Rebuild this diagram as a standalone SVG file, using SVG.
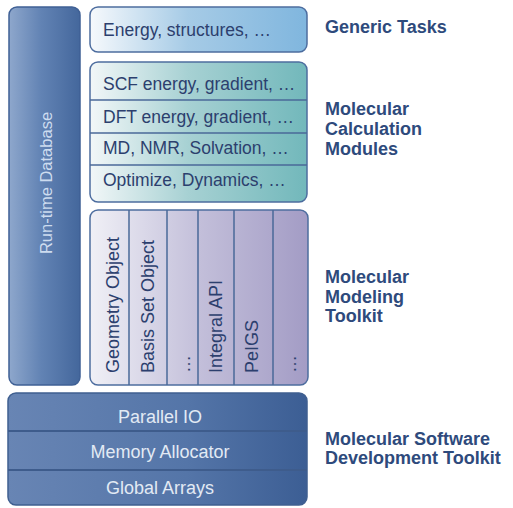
<svg xmlns="http://www.w3.org/2000/svg" width="513" height="508" viewBox="0 0 513 508">
<defs>
<linearGradient id="gDb" x1="0" y1="0" x2="1" y2="0"><stop offset="0" stop-color="#8ea7cc"/><stop offset="0.45" stop-color="#6283b4"/><stop offset="1" stop-color="#44679c"/></linearGradient>
<linearGradient id="gGen" x1="0" y1="0" x2="1" y2="0"><stop offset="0" stop-color="#f6f9fc"/><stop offset="0.45" stop-color="#a6cbe6"/><stop offset="1" stop-color="#80b6de"/></linearGradient>
<linearGradient id="gCalc" x1="0" y1="0" x2="1" y2="0"><stop offset="0" stop-color="#f2f7f8"/><stop offset="0.45" stop-color="#a7d1d3"/><stop offset="1" stop-color="#72b8bb"/></linearGradient>
<linearGradient id="gMod" x1="0" y1="0" x2="1" y2="0"><stop offset="0" stop-color="#f0f0f6"/><stop offset="0.5" stop-color="#c3bfda"/><stop offset="1" stop-color="#a39cc5"/></linearGradient>
<linearGradient id="gSdk" x1="0" y1="0" x2="1" y2="0"><stop offset="0" stop-color="#6885b4"/><stop offset="0.6" stop-color="#5475a8"/><stop offset="1" stop-color="#3c5e94"/></linearGradient>
</defs>
<style>
.box{stroke:#4d6d9f;stroke-width:1.5}
.div{stroke:#4a6898;stroke-width:1.5}
.t{font-family:"Liberation Sans",Arial,sans-serif;font-size:17.5px;fill:#2c3f6e}
.v{font-family:"Liberation Sans",Arial,sans-serif;font-size:18px;fill:#2c3f6e}
.w{font-family:"Liberation Sans",Arial,sans-serif;font-size:18px;fill:#e2eaf4;text-anchor:middle}
.db{font-family:"Liberation Sans",Arial,sans-serif;font-size:16.5px;fill:#cddcef;text-anchor:middle}
.lbl{font-family:"Liberation Sans",Arial,sans-serif;font-size:18px;font-weight:bold;fill:#2e4a7c}
</style>
<g id="runtime-db">
<rect x="9" y="7" width="71" height="378" rx="8" fill="url(#gDb)" stroke="#3f6095" stroke-width="1.5"/>
<text class="db" x="52" y="183" transform="rotate(-90 52 183)">Run-time Database</text>
</g>
<g id="generic-tasks">
<rect class="box" x="90" y="7" width="217" height="45" rx="8" fill="url(#gGen)"/>
<text class="t" x="103" y="36">Energy, structures, …</text>
</g>
<g id="calc-modules">
<rect class="box" x="90" y="62" width="217" height="140" rx="8" fill="url(#gCalc)"/>
<line class="div" x1="90" y1="100" x2="307" y2="100"/>
<line class="div" x1="90" y1="133" x2="307" y2="133"/>
<line class="div" x1="90" y1="165" x2="307" y2="165"/>
<text class="t" x="103" y="90">SCF energy, gradient, …</text>
<text class="t" x="103" y="123">DFT energy, gradient, …</text>
<text class="t" x="103" y="154">MD, NMR, Solvation, …</text>
<text class="t" x="103" y="186">Optimize, Dynamics, …</text>
</g>
<g id="modeling-toolkit">
<rect class="box" x="90" y="210" width="218" height="175" rx="8" fill="url(#gMod)"/>
<line class="div" x1="129" y1="210" x2="129" y2="385"/>
<line class="div" x1="167" y1="210" x2="167" y2="385"/>
<line class="div" x1="198" y1="210" x2="198" y2="385"/>
<line class="div" x1="234" y1="210" x2="234" y2="385"/>
<line class="div" x1="273" y1="210" x2="273" y2="385"/>
<text class="v" x="119" y="373" transform="rotate(-90 119 373)">Geometry Object</text>
<text class="v" x="154" y="373" transform="rotate(-90 154 373)">Basis Set Object</text>
<text class="v" x="190" y="373" transform="rotate(-90 190 373)">…</text>
<text class="v" x="222" y="373" transform="rotate(-90 222 373)">Integral API</text>
<text class="v" x="258" y="373" transform="rotate(-90 258 373)">PeIGS</text>
<text class="v" x="296" y="373" transform="rotate(-90 296 373)">…</text>
</g>
<g id="sdk">
<rect x="8" y="393" width="299" height="112" rx="8" fill="url(#gSdk)" stroke="#3f5f90" stroke-width="1.5"/>
<line x1="8" y1="431" x2="307" y2="431" stroke="#3e5c8c" stroke-width="2"/>
<line x1="8" y1="470" x2="307" y2="470" stroke="#3e5c8c" stroke-width="2"/>
<text class="w" x="160" y="423">Parallel IO</text>
<text class="w" x="160" y="458">Memory Allocator</text>
<text class="w" x="160" y="494">Global Arrays</text>
</g>
<g id="labels">
<text class="lbl" x="325" y="33">Generic Tasks</text>
<text class="lbl" x="325" y="115">Molecular</text>
<text class="lbl" x="325" y="135">Calculation</text>
<text class="lbl" x="325" y="155">Modules</text>
<text class="lbl" x="325" y="283">Molecular</text>
<text class="lbl" x="325" y="303">Modeling</text>
<text class="lbl" x="325" y="322">Toolkit</text>
<text class="lbl" x="325" y="445">Molecular Software</text>
<text class="lbl" x="325" y="464">Development Toolkit</text>
</g>
</svg>
